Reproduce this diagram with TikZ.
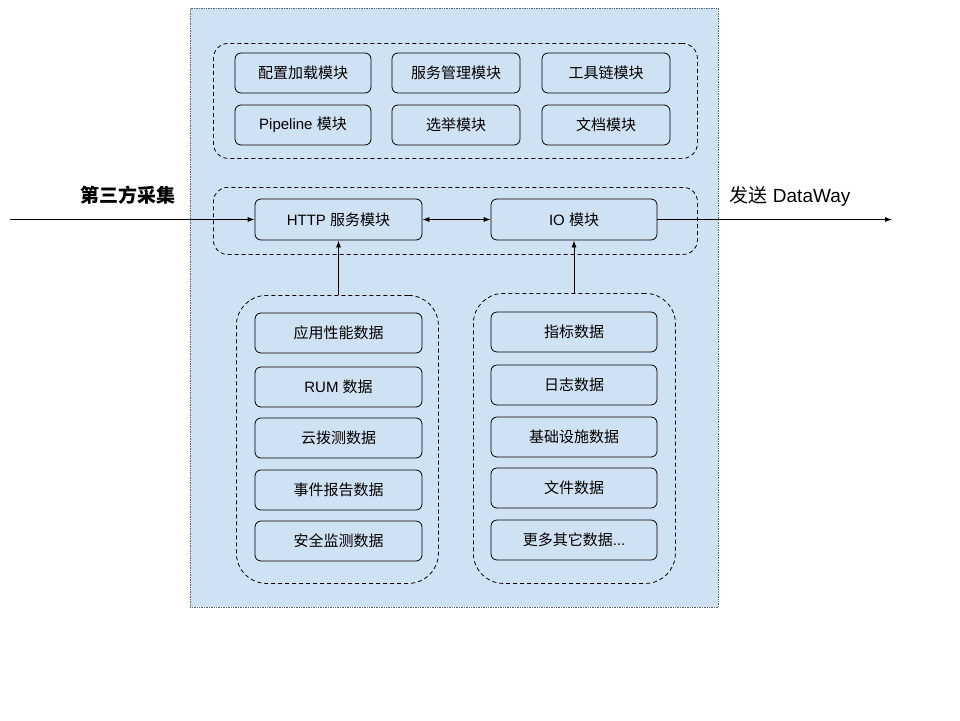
\documentclass[tikz,border=0pt]{standalone}
\usepackage{fontspec}
\setmainfont{Liberation Sans}
\newfontfamily\zh{Noto Sans CJK SC}
\usetikzlibrary{arrows.meta}
\definecolor{bgblue}{RGB}{207,226,243}
\definecolor{bordergray}{RGB}{90,100,110}
\tikzset{
  mod/.style={draw=black, rounded corners=6pt, line width=0.8pt, font=\fontsize{15}{18}\selectfont, inner sep=0pt},
  grp/.style={draw=black, dash pattern=on 4pt off 3pt, line width=0.8pt},
  tip/.tip={Latex[length=7pt,width=5pt]},
  arr/.style={-tip, line width=0.8pt},
  lbl/.style={font=\fontsize{19}{22}\selectfont}
}
\begin{document}
\begin{tikzpicture}[x=1pt,y=-1pt]
\useasboundingbox (0,0) rectangle (960,720);
% outer panel
\node[draw=bordergray, densely dotted, fill=bgblue, line width=0.7pt, minimum width=528pt, minimum height=599pt, inner sep=0pt, anchor=north west] (panel) at (190,8) {};
% groups
\node[grp, rounded corners=15pt, minimum width=484pt, minimum height=115pt, inner sep=0pt, anchor=north west] (gtop) at (213,43) {};
\node[grp, rounded corners=14pt, minimum width=484pt, minimum height=67pt, inner sep=0pt, anchor=north west] (gmid) at (213,187) {};
\node[grp, rounded corners=30pt, minimum width=202pt, minimum height=288pt, inner sep=0pt, anchor=north west] (gleft) at (236,295) {};
\node[grp, rounded corners=30pt, minimum width=202pt, minimum height=290pt, inner sep=0pt, anchor=north west] (gright) at (473,293) {};
% top modules
\node[mod, minimum width=136pt, minimum height=40pt] (m1) at (303,73) {\zh 配置加载模块};
\node[mod, minimum width=128pt, minimum height=40pt] (m2) at (456,73) {\zh 服务管理模块};
\node[mod, minimum width=128pt, minimum height=40pt] (m3) at (606,73) {\zh 工具链模块};
\node[mod, minimum width=136pt, minimum height=40pt] (m4) at (303,125) {Pipeline {\zh 模块}};
\node[mod, minimum width=128pt, minimum height=40pt] (m5) at (456,125) {\zh 选举模块};
\node[mod, minimum width=128pt, minimum height=40pt] (m6) at (606,125) {\zh 文档模块};
% middle
\node[mod, minimum width=167pt, minimum height=41pt] (http) at (338.5,219.5) {HTTP {\zh 服务模块}};
\node[mod, minimum width=166pt, minimum height=41pt] (io) at (574,219.5) {IO {\zh 模块}};
% left data
\node[mod, minimum width=167pt, minimum height=40pt] (l1) at (338.5,333) {\zh 应用性能数据};
\node[mod, minimum width=167pt, minimum height=40pt] (l2) at (338.5,387) {RUM {\zh 数据}};
\node[mod, minimum width=167pt, minimum height=40pt] (l3) at (338.5,438) {\zh 云拨测数据};
\node[mod, minimum width=167pt, minimum height=40pt] (l4) at (338.5,490) {\zh 事件报告数据};
\node[mod, minimum width=167pt, minimum height=40pt] (l5) at (338.5,541) {\zh 安全监测数据};
% right data
\node[mod, minimum width=166pt, minimum height=40pt] (r1) at (574,332) {\zh 指标数据};
\node[mod, minimum width=166pt, minimum height=40pt] (r2) at (574,385) {\zh 日志数据};
\node[mod, minimum width=166pt, minimum height=40pt] (r3) at (574,437) {\zh 基础设施数据};
\node[mod, minimum width=166pt, minimum height=40pt] (r4) at (574,488) {\zh 文件数据};
\node[mod, minimum width=166pt, minimum height=40pt] (r5) at (574,540) {{\zh 更多其它数据}...};
% external ends
\coordinate (src) at (10,219.5);
\coordinate (dst) at (892,219.5);
\node[lbl, font=\fontsize{19}{22}\selectfont\zh\bfseries] (tlabel) at (128,195) {第三方采集};
\node[lbl] (dlabel) at (790,196) {{\zh 发送} DataWay};
% connectors
\draw[arr] (src) -- (http.west);
\draw[arr] (io.east) -- (dst);
\draw[tip-tip, line width=0.8pt] (http.east) -- (io.west);
\draw[arr] (http.south |- gleft.north) -- (http.south);
\draw[arr] (io.south |- gright.north) -- (io.south);
\end{tikzpicture}
\end{document}
